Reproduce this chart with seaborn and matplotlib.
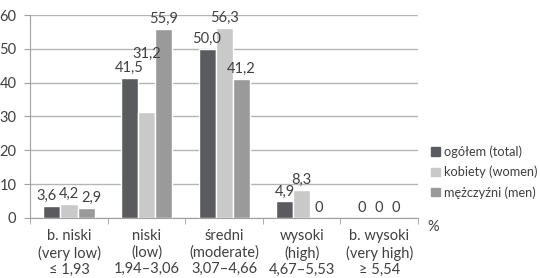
import pandas as pd
import matplotlib.pyplot as plt
import seaborn as sns

# dane z wykresu
kategorie = ['b. niski\n(very low)\n≤ 1,93', 'niski\n(low)\n1,94–3,06',
             'średni\n(moderate)\n3,07–4,66', 'wysoki\n(high)\n4,67–5,53',
             'b. wysoki\n(very high)\n≥ 5,54']
grupy = ['ogółem (total)', 'kobiety (women)', 'mężczyźni (men)']
ogolem = [3.6, 41.5, 50.0, 4.9, 0]
kobiety = [4.2, 31.2, 56.3, 8.3, 0]
mezczyzni = [2.9, 55.9, 41.2, 0, 0]
kolory = ['#5a5b5f', '#c9c9c9', '#9a9a9a']

df = pd.DataFrame({
    'kategoria': kategorie * 3,
    'grupa': [g for g in grupy for _ in kategorie],
    'wartosc': ogolem + kobiety + mezczyzni,
})

sns.set_style('white')
plt.rcParams['font.family'] = ['Lato', 'DejaVu Sans']
plt.rcParams['text.color'] = '#404040'

fig = plt.figure(figsize=(5.4, 2.78), dpi=100)
ax = fig.add_axes([0.056, 0.216, 0.718, 0.73])

sns.barplot(data=df, x='kategoria', y='wartosc', hue='grupa', palette=kolory,
            width=0.66, saturation=1, ax=ax, legend=False, zorder=3)

ax.set_ylim(0, 60)
ax.set_yticks(range(0, 61, 10))
ax.set_xlim(-0.5, 4.5)
ax.grid(axis='y', color='#b5b5b5', linewidth=1, zorder=0)
ax.set_xlabel('')
ax.set_ylabel('')
for s in ['top', 'right']:
    ax.spines[s].set_visible(False)
ax.spines['left'].set_color('#a0a0a0')
ax.spines['bottom'].set_color('#a0a0a0')
ax.tick_params(axis='y', labelsize=10.5, colors='#404040', left=True, length=4, color='#a0a0a0', pad=6)
ax.tick_params(axis='x', labelsize=10.5, colors='#404040', length=0, pad=8)
for lab in ax.get_xticklabels():
    lab.set_linespacing(1.2)
ax.set_xticks([i + 0.5 for i in range(-1, 5)], minor=True)
ax.tick_params(axis='x', which='minor', length=4, color='#a0a0a0', bottom=True)

# etykiety wartości
for cont in ax.containers:
    labels = [f'{v:.1f}'.replace('.', ',') if v > 0 else '0' for v in cont.datavalues]
    ax.bar_label(cont, labels=labels, padding=2, fontsize=10.5, color='#404040')

# rozsunięcie etykiet jak w oryginale (pierwsza grupa, 31,2)
przesuniecia = {'3,6': -4, '2,9': 4}
for t in ax.texts:
    txt = t.get_text()
    if txt == '31,2':
        x, y = t.xy
        t.xy = (x, 45.5)
    if txt in przesuniecia:
        t.xyann = (przesuniecia[txt], t.xyann[1])

ax.text(1.025, -0.01, '%', transform=ax.transAxes, fontsize=10.5, va='top', ha='left')

handles = [plt.Rectangle((0, 0), 1, 1, color=c) for c in kolory]
fig.legend(handles, grupy, loc='center left', bbox_to_anchor=(0.799, 0.381),
           frameon=False, fontsize=9.2, handlelength=0.65, handleheight=0.65,
           handletextpad=0.3, labelspacing=0.6, borderpad=0, borderaxespad=0)

fig.savefig('out.png', dpi=100)
